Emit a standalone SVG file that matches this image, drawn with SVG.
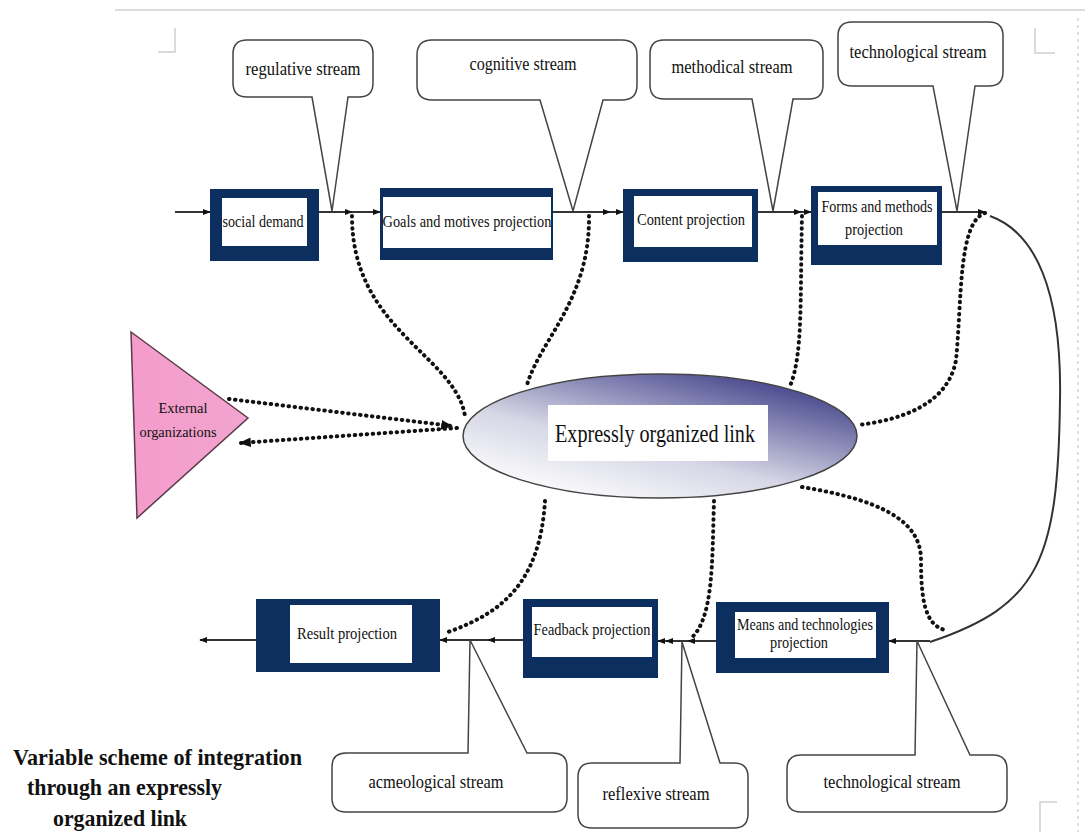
<svg xmlns="http://www.w3.org/2000/svg" width="1085" height="832" viewBox="0 0 1085 832">
<defs>
<marker id="ah" viewBox="0 0 10 10" refX="9" refY="5" markerWidth="8" markerHeight="8" markerUnits="userSpaceOnUse" orient="auto"><path d="M0,1 L10,5 L0,9 Z" fill="#111"/></marker>
<marker id="ahd" viewBox="0 0 10 10" refX="9" refY="5" markerWidth="12" markerHeight="12" markerUnits="userSpaceOnUse" orient="auto"><path d="M0,1 L10,5 L0,9 Z" fill="#111"/></marker>
<linearGradient id="eg" x1="0.15" y1="0.95" x2="0.85" y2="0.05">
<stop offset="0" stop-color="#ffffff"/><stop offset="0.4" stop-color="#d6d6e6"/><stop offset="1" stop-color="#3e3e88"/>
</linearGradient>
<linearGradient id="tg" x1="0" y1="0" x2="1" y2="0">
<stop offset="0" stop-color="#f49ccb"/><stop offset="1" stop-color="#f2a4cf"/>
</linearGradient>
</defs>
<style>
.box{fill:#0c2f5f}
.inner{fill:#fff}
.t{font-family:"Liberation Serif","Times New Roman",serif;fill:#111;text-anchor:middle}
.call{fill:#fff;stroke:#444;stroke-width:1.5}
.ln{stroke:#333;stroke-width:2;fill:none}
.dot{stroke:#111;stroke-width:4;fill:none;stroke-linecap:round;stroke-dasharray:0.5 5.5}
.frame{stroke:#cfcfcf;stroke-width:1.5;fill:none}
</style>
<rect width="1085" height="832" fill="#fff"/>
<g id="frame">
<line class="frame" x1="115" y1="10" x2="1085" y2="10"/>
<line x1="1078" y1="18" x2="1078" y2="832" stroke="#d4d4d4" stroke-width="1.5" stroke-dasharray="3 4"/>
<polyline class="frame" points="158,52 175,52 175,28"/>
<polyline class="frame" points="1035,28 1035,53 1055,53"/>
<polyline class="frame" points="1040,832 1040,802 1057,802"/>
</g>

<g id="connectors">
<line class="ln" x1="175" y1="212" x2="210" y2="212" marker-end="url(#ah)"/>
<line class="ln" x1="319" y1="212" x2="352" y2="212" marker-end="url(#ah)"/>
<line class="ln" x1="352" y1="212" x2="380" y2="212" marker-end="url(#ah)"/>
<line class="ln" x1="553" y1="212" x2="610" y2="212" marker-end="url(#ah)"/>
<line class="ln" x1="610" y1="212" x2="623" y2="212" marker-end="url(#ah)"/>
<line class="ln" x1="758" y1="212" x2="801" y2="212" marker-end="url(#ah)"/>
<line class="ln" x1="801" y1="212" x2="811" y2="212" marker-end="url(#ah)"/>
<line class="ln" x1="942" y1="212" x2="985" y2="212" marker-end="url(#ah)"/>
<path class="ln" stroke-width="1.5" d="M990,216 C1035,232 1062,290 1060,400 C1058,560 1040,605 930,642"/>
<line class="ln" x1="930" y1="641" x2="889" y2="641" marker-end="url(#ah)"/>
<line class="ln" x1="716" y1="641" x2="688" y2="641" marker-end="url(#ah)"/>
<line class="ln" x1="688" y1="641" x2="666" y2="641" marker-end="url(#ah)"/>
<line class="ln" x1="666" y1="641" x2="658" y2="641" marker-end="url(#ah)"/>
<line class="ln" x1="523" y1="640" x2="488" y2="640" marker-end="url(#ah)"/>
<line class="ln" x1="488" y1="640" x2="440" y2="640" marker-end="url(#ah)"/>
<line class="ln" x1="256" y1="640" x2="200" y2="640" marker-end="url(#ah)"/>

<path class="dot" d="M352,216 C352,330 455,355 465,416"/>
<path class="dot" d="M589,216 C590,300 540,340 527,385"/>
<path class="dot" d="M802,216 C800,300 803,355 790,386"/>
<path class="dot" d="M985,213 C958,222 962,300 956,360 C948,405 900,420 858,425"/>
<path class="dot" d="M545,501 C540,580 505,612 448,632"/>
<path class="dot" d="M714,501 C712,560 714,620 690,639"/>
<path class="dot" d="M802,487 C880,500 921,520 921,560 C921,600 925,625 945,630"/>
<path class="dot" d="M229,399 L452,426" marker-end="url(#ahd)"/>
<path class="dot" d="M457,428 L240,443" marker-end="url(#ahd)"/>
</g>

<g id="callout-regulative">
<path class="call" d="M247,40 H359 Q373,40 373,54 V83 Q373,97 359,97 H348 L332,211 L312,97 H247 Q233,97 233,83 V54 Q233,40 247,40 Z"/>
<text class="t" x="303" y="75" font-size="19" textLength="115" lengthAdjust="spacingAndGlyphs">regulative stream</text>
</g>
<g id="callout-cognitive">
<path class="call" d="M432,40 H622 Q637,40 637,55 V85 Q637,100 622,100 H603 L573,211 L540,100 H432 Q417,100 417,85 V55 Q417,40 432,40 Z"/>
<text class="t" x="523" y="70" font-size="19" textLength="107" lengthAdjust="spacingAndGlyphs">cognitive stream</text>
</g>
<g id="callout-methodical">
<path class="call" d="M664,40 H809 Q823,40 823,54 V85 Q823,99 809,99 H793 L773,211 L752,99 H664 Q650,99 650,85 V54 Q650,40 664,40 Z"/>
<text class="t" x="732" y="73" font-size="19" textLength="121" lengthAdjust="spacingAndGlyphs">methodical stream</text>
</g>
<g id="callout-technological-top">
<path class="call" d="M852,22 H989 Q1003,22 1003,36 V72 Q1003,86 989,86 H975 L957,211 L933,86 H852 Q838,86 838,72 V36 Q838,22 852,22 Z"/>
<text class="t" x="918" y="58" font-size="19" textLength="137" lengthAdjust="spacingAndGlyphs">technological stream</text>
</g>

<g id="node-social-demand">
<rect class="box" x="210" y="189" width="109" height="72"/>
<rect class="inner" x="222" y="198" width="85" height="48"/>
<text class="t" x="263" y="227" font-size="17" textLength="81" lengthAdjust="spacingAndGlyphs">social demand</text>
</g>
<g id="node-goals">
<rect class="box" x="380" y="188" width="173" height="72"/>
<rect class="inner" x="383" y="197" width="168" height="51"/>
<text class="t" x="467" y="227" font-size="17" textLength="169" lengthAdjust="spacingAndGlyphs">Goals and motives projection</text>
</g>
<g id="node-content">
<rect class="box" x="623" y="189" width="135" height="73"/>
<rect class="inner" x="634" y="196" width="118" height="51"/>
<text class="t" x="691" y="225" font-size="17" textLength="108" lengthAdjust="spacingAndGlyphs">Content projection</text>
</g>
<g id="node-forms">
<rect class="box" x="811" y="186" width="131" height="79"/>
<rect class="inner" x="818" y="192" width="119" height="53"/>
<text class="t" x="877" y="212" font-size="17" textLength="111" lengthAdjust="spacingAndGlyphs">Forms and methods</text>
<text class="t" x="874" y="235" font-size="17" textLength="58" lengthAdjust="spacingAndGlyphs">projection</text>
</g>

<g id="node-external">
<polygon points="131,332 248,418 137,518" fill="url(#tg)" stroke="#5a3a4a" stroke-width="1.5"/>
<text class="t" x="183" y="413" font-size="15" textLength="49" lengthAdjust="spacingAndGlyphs">External</text>
<text class="t" x="178" y="437" font-size="15" textLength="77" lengthAdjust="spacingAndGlyphs">organizations</text>
</g>

<g id="node-link">
<ellipse cx="660" cy="436" rx="197" ry="62" fill="url(#eg)" stroke="#444" stroke-width="1.5"/>
<rect class="inner" x="548" y="405" width="220" height="56"/>
<text class="t" x="655" y="442" font-size="26" textLength="200" lengthAdjust="spacingAndGlyphs">Expressly organized link</text>
</g>

<g id="node-means">
<rect class="box" x="716" y="602" width="173" height="71"/>
<rect class="inner" x="735" y="612" width="141" height="46"/>
<text class="t" x="805" y="630" font-size="16" textLength="136" lengthAdjust="spacingAndGlyphs">Means and technologies</text>
<text class="t" x="799" y="648" font-size="16" textLength="58" lengthAdjust="spacingAndGlyphs">projection</text>
</g>
<g id="node-feadback">
<rect class="box" x="523" y="599" width="135" height="79"/>
<rect class="inner" x="532" y="607" width="120" height="50"/>
<text class="t" x="592" y="635" font-size="17" textLength="117" lengthAdjust="spacingAndGlyphs">Feadback projection</text>
</g>
<g id="node-result">
<rect class="box" x="256" y="599" width="184" height="73"/>
<rect class="inner" x="290" y="605" width="122" height="58"/>
<text class="t" x="347" y="639" font-size="17" textLength="100" lengthAdjust="spacingAndGlyphs">Result projection</text>
</g>

<g id="callout-acmeological">
<path class="call" d="M346,753 H468 L470,640 L527,753 H553 Q567,753 567,767 V798 Q567,812 553,812 H346 Q332,812 332,798 V767 Q332,753 346,753 Z"/>
<text class="t" x="436" y="788" font-size="19" textLength="135" lengthAdjust="spacingAndGlyphs">acmeological stream</text>
</g>
<g id="callout-reflexive">
<path class="call" d="M592,763 H680 L682,642 L720,763 H734 Q748,763 748,777 V814 Q748,828 734,828 H592 Q578,828 578,814 V777 Q578,763 592,763 Z"/>
<text class="t" x="656" y="800" font-size="19" textLength="107" lengthAdjust="spacingAndGlyphs">reflexive stream</text>
</g>
<g id="callout-technological-bottom">
<path class="call" d="M801,755 H915 L917,641 L970,755 H993 Q1007,755 1007,769 V798 Q1007,812 993,812 H801 Q787,812 787,798 V769 Q787,755 801,755 Z"/>
<text class="t" x="892" y="788" font-size="19" textLength="137" lengthAdjust="spacingAndGlyphs">technological stream</text>
</g>

<g id="title">
<text x="13" y="765" font-family="Liberation Serif,serif" font-weight="bold" font-size="24" fill="#111" textLength="289" lengthAdjust="spacingAndGlyphs">Variable scheme of integration</text>
<text x="27" y="795" font-family="Liberation Serif,serif" font-weight="bold" font-size="24" fill="#111" textLength="195" lengthAdjust="spacingAndGlyphs">through an expressly</text>
<text x="53" y="826" font-family="Liberation Serif,serif" font-weight="bold" font-size="24" fill="#111" textLength="134" lengthAdjust="spacingAndGlyphs">organized link</text>
</g>
</svg>
